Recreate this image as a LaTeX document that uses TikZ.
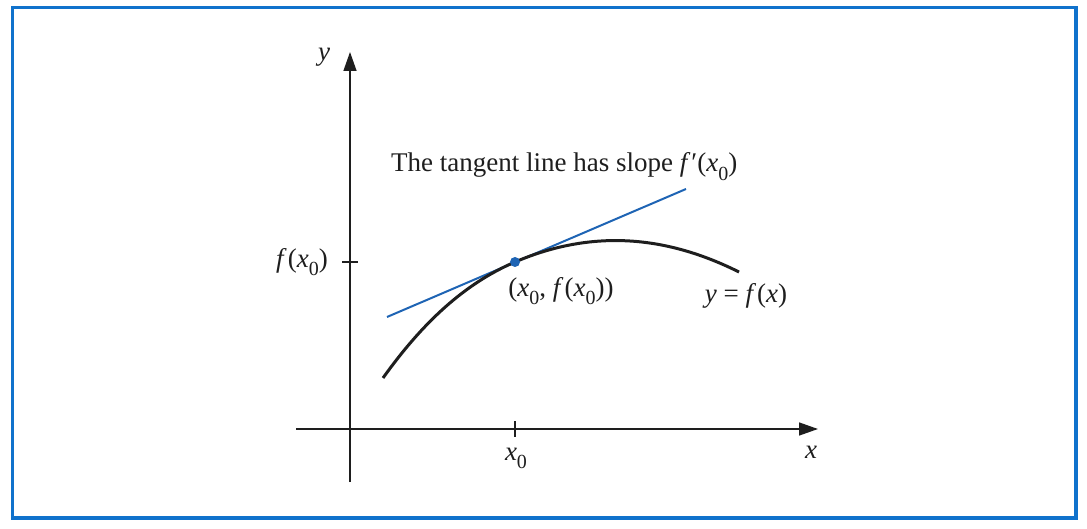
\documentclass[tikz,border=0pt]{standalone}
\usepackage{fontspec}
\setmainfont{Liberation Serif}
\usetikzlibrary{arrows.meta}
\definecolor{framecol}{RGB}{16,114,204}
\definecolor{tancol}{RGB}{30,100,180}
\definecolor{curvecol}{RGB}{30,30,30}
\newcommand{\iv}[1]{\textit{#1}}
\newcommand{\sub}[1]{\raisebox{-0.3em}{\fontsize{20}{20}\selectfont #1}}
\tikzset{
  axis/.style={line width=1.4pt, draw=curvecol, -{Triangle[length=19pt,width=13pt]}},
  tick/.style={line width=1.4pt, draw=curvecol},
  lbl/.style={font=\fontsize{27}{30}\selectfont, inner sep=0pt, text=curvecol},
}
\begin{document}
\begin{tikzpicture}[x=1pt,y=-1pt]
\useasboundingbox (0,0) rectangle (1087,529);
\draw[framecol, line width=3.2pt] (12.5,7.5) rectangle (1076,518);
% axes
\coordinate (ys) at (350,482);
\coordinate (ye) at (350,52);
\coordinate (xs) at (296,429);
\coordinate (xe) at (818,429);
\draw[axis] (ys) -- (ye);
\draw[axis] (xs) -- (xe);
% ticks
\coordinate (tx1) at (515,421); \coordinate (tx2) at (515,437);
\coordinate (ty1) at (342,262); \coordinate (ty2) at (358,262);
\draw[tick] (tx1) -- (tx2);
\draw[tick] (ty1) -- (ty2);
% tangent line
\coordinate (t1) at (387,317);
\coordinate (t2) at (686,189);
\draw[tancol, line width=2pt] (t1) -- (t2);
% curve
\coordinate (c0) at (383,378);
\coordinate (P) at (515,262);
\coordinate (c3) at (739,272);
\draw[curvecol, line width=3pt] (c0) .. controls (423,322) and (465,283.4) .. (P)
  .. controls (595,227.8) and (669,237) .. (c3);
\fill[tancol] (P) circle (5pt);
% labels
\node[lbl] (ylab) at (324,57) {\iv{y}};
\node[lbl] (xlab) at (811,452) {\iv{x}};
\node[lbl] (x0lab) at (516,458) {\iv{x}\sub{0}};
\node[lbl, anchor=east] (fx0lab) at (328,262) {\iv{f}\kern1pt(\iv{x}\sub{0})};
\node[lbl] (plab) at (561,291) {(\iv{x}\sub{0}, \iv{f}\kern1pt(\iv{x}\sub{0}))};
\node[lbl] (eqlab) at (746,296) {\iv{y} = \iv{f}\kern1pt(\iv{x})};
\node[lbl, anchor=base west] (tanlab) at (391,172) {The tangent line has slope \iv{f}\kern1pt′(\iv{x}\sub{0})};
\end{tikzpicture}
\end{document}
